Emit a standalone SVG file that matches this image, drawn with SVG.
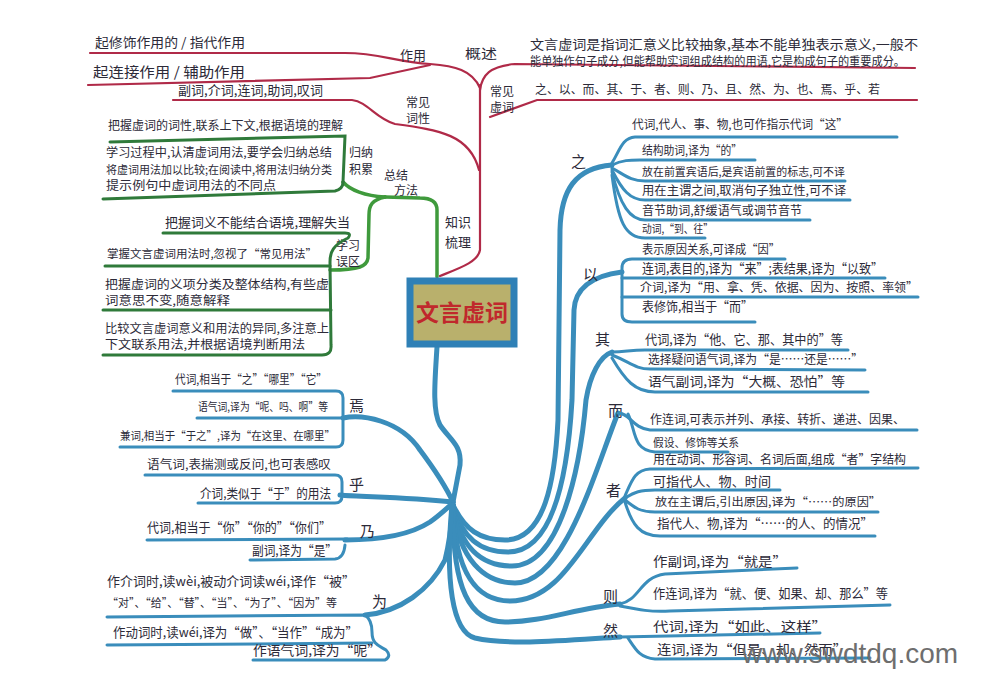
<svg xmlns="http://www.w3.org/2000/svg" width="996" height="699" viewBox="0 0 996 699">
<style>
.t{font-family:"Noto Sans CJK SC","Noto Sans",sans-serif;font-size:13px;fill:#2c2a38}
.s{font-size:12px}
.x{font-size:11.5px}
.lb{font-family:"Noto Sans CJK SC","Noto Sans",sans-serif;font-size:15px;fill:#2c2a38}
.bl{stroke:#3a8dbb;fill:none;stroke-linecap:round;stroke-linejoin:round}
.b5{stroke-width:5}
.b3{stroke-width:3}
.rd{stroke:#b02a48;stroke-width:2.2;fill:none;stroke-linecap:round}
.gr{stroke:#3f9a3c;stroke-width:3.5;fill:none;stroke-linecap:round;stroke-linejoin:round}
.gd{stroke:#2f7a3a;stroke-width:3;fill:none;stroke-linecap:round}
</style>
<rect width="996" height="699" fill="#ffffff"/>

<g id="connectors">
  <path class="rd" d="M90,53 L345,53 C380,53 395,62 430,64 C455,66 472,70 480,88"/>
  <path class="rd" d="M88,85 L370,78 L430,65"/>
  <path class="rd" d="M480,90 C482,75 490,66 515,64 L915,68"/>
  <path class="rd" d="M490,117 L537,100 L917,100"/>
  <path class="rd" d="M480,85 L480,250 C478,262 460,268 440,276"/>
  <path class="rd" d="M173,100 L352,100 C368,102 375,118 395,124 C440,130 470,135 479,170"/>
  <path class="gr" d="M437,277 L437,210 C437,202 432,198 420,198 L385,197"/>
  <path class="gr" d="M385,197 C365,196 350,190 343,182"/>
  <path class="gr" d="M385,197 C372,200 369,205 369,215 L368,258 C367,266 360,270 330,270"/>
  <path class="bl b5" d="M437,347 C435,380 432,410 440,425 C450,440 462,445 460,465 L453,502"/>
  <path class="bl b5" d="M343,418 C362,414 400,420 420,450 C435,470 445,485 453,502"/>
  <path class="bl b5" d="M340,495 C360,497 400,497 453,502"/>
  <path class="bl b5" d="M345,540 C380,540 410,535 430,522 C440,515 447,508 453,503"/>
  <path class="bl b5" d="M365,615 C400,612 430,590 445,560 C450,540 452,520 453,505"/>
  <path class="bl b5" d="M453,505 C465,530 480,540 505,540 C545,540 555,480 558,420 L560,230 C561,190 575,168 612,165"/>
  <path class="bl b5" d="M453,505 C462,538 480,552 508,552 C555,552 568,470 572,400 L574,310 C575,290 590,276 622,272"/>
  <path class="bl b5" d="M453,505 C460,548 482,566 512,566 C560,566 580,470 586,400 C590,375 600,356 612,352"/>
  <path class="bl b5" d="M453,505 C458,560 485,583 515,583 C565,583 595,470 618,413"/>
  <path class="bl b5" d="M453,505 C455,575 478,601 510,601 C565,601 585,530 625,498"/>
  <path class="bl b5" d="M453,505 C452,590 470,622 505,622 C545,622 575,608 620,604"/>
  <path class="bl b5" d="M452,505 C445,580 452,632 475,638 C510,646 570,640 620,637"/>
</g>

<g id="node-zuoyong">
  <text class="t" x="95" y="47" textLength="150" lengthAdjust="spacingAndGlyphs">起修饰作用的 / 指代作用</text>
  <text class="t" x="93" y="77" style="font-size:14px" textLength="152" lengthAdjust="spacingAndGlyphs">起连接作用 / 辅助作用</text>
  <text class="t" x="400" y="60" textLength="26" lengthAdjust="spacingAndGlyphs">作用</text>
</g>
<g id="node-gaishu">
  <text class="t" x="465" y="58" textLength="32" lengthAdjust="spacingAndGlyphs">概述</text>
  <text class="t" x="530" y="49" textLength="388" lengthAdjust="spacingAndGlyphs">文言虚词是指词汇意义比较抽象,基本不能单独表示意义,一般不</text>
  <text class="t s" x="530" y="66" textLength="375" lengthAdjust="spacingAndGlyphs">能单独作句子成分,但能帮助实词组成结构的用语,它是构成句子的重要成分。</text>
</g>
<g id="node-changjianxuci">
  <text class="t s" x="490" y="96">常见</text>
  <text class="t s" x="490" y="112">虚词</text>
  <text class="t s" x="535" y="94" textLength="345" lengthAdjust="spacingAndGlyphs">之、以、而、其、于、者、则、乃、且、然、为、也、焉、乎、若</text>
</g>
<g id="node-cixing">
  <text class="t s" x="406" y="107">常见</text>
  <text class="t s" x="406" y="123">词性</text>
  <text class="t" x="178" y="95" textLength="145" lengthAdjust="spacingAndGlyphs">副词,介词,连词,助词,叹词</text>
</g>

<g id="node-zhishi">
  <text class="t" x="445" y="227">知识</text>
  <text class="t" x="445" y="247">梳理</text>
</g>
<g id="node-fangfa">
  <text class="t s" x="384" y="180">总结</text>
  <text class="t s" x="394" y="195">方法</text>
</g>
<g id="node-jilei">
  <text class="t s" x="349" y="157">归纳</text>
  <text class="t s" x="349" y="174">积累</text>
  <path class="gd" d="M110,142 L345,136 L343,182"/>
  <path class="gd" d="M103,199 L335,191 Q343,189 343,182"/>
  <text class="t s" x="108" y="130" textLength="235" lengthAdjust="spacingAndGlyphs">把握虚词的词性,联系上下文,根据语境的理解</text>
  <text class="t s" x="106" y="157" textLength="226" lengthAdjust="spacingAndGlyphs">学习过程中,认清虚词用法,要学会归纳总结</text>
  <text class="t x" x="106" y="174" textLength="226" lengthAdjust="spacingAndGlyphs">将虚词用法加以比较;在阅读中,将用法归纳分类</text>
  <text class="t s" x="106" y="190" textLength="170" lengthAdjust="spacingAndGlyphs">提示例句中虚词用法的不同点</text>
</g>
<g id="node-wuqu">
  <text class="t s" x="336" y="250">学习</text>
  <text class="t s" x="336" y="266">误区</text>
  <path class="gd" d="M163,233 L345,233 Q352,233 348,238 C333,245 330,252 330,262 L331,345 Q332,355 322,355 L103,355"/>
  <path class="gd" d="M105,266 L330,266"/>
  <path class="gd" d="M103,310 L331,310"/>
  <text class="t" x="165" y="227" textLength="185" lengthAdjust="spacingAndGlyphs">把握词义不能结合语境,理解失当</text>
  <text class="t x" x="107" y="258" textLength="210" lengthAdjust="spacingAndGlyphs">掌握文言虚词用法时,忽视了“常见用法”</text>
  <text class="t s" x="105" y="289" textLength="224" lengthAdjust="spacingAndGlyphs">把握虚词的义项分类及整体结构,有些虚</text>
  <text class="t s" x="105" y="305" textLength="125" lengthAdjust="spacingAndGlyphs">词意思不变,随意解释</text>
  <text class="t s" x="105" y="333" textLength="224" lengthAdjust="spacingAndGlyphs">比较文言虚词意义和用法的异同,多注意上</text>
  <text class="t s" x="105" y="349" textLength="200" lengthAdjust="spacingAndGlyphs">下文联系用法,并根据语境判断用法</text>
</g>

<g id="node-center">
  <rect x="410" y="281" width="104" height="63" fill="#b9b06c" stroke="#2f80b6" stroke-width="7"/>
  <text x="462" y="321" text-anchor="middle" font-family="Noto Sans CJK SC, Noto Sans, sans-serif" font-size="23" font-weight="bold" fill="#c0282c">文言虚词</text>
</g>

<g id="node-yan">
  <text class="lb" x="349" y="411">焉</text>
  <path class="bl b3" d="M173,391 L336,391 Q343,391 343,398 L343,440 Q343,447 336,447 L120,447"/>
  <path class="bl b3" d="M197,418 L343,418"/>
  <text class="t s" x="175" y="384" textLength="152" lengthAdjust="spacingAndGlyphs">代词,相当于“之”“哪里”“它”</text>
  <text class="t" x="198" y="411" style="font-size:11px" textLength="130" lengthAdjust="spacingAndGlyphs">语气词,译为“呢、吗、啊”等</text>
  <text class="t x" x="120" y="440" textLength="215" lengthAdjust="spacingAndGlyphs">兼词,相当于“于之”,译为“在这里、在哪里”</text>
</g>
<g id="node-hu">
  <text class="lb" x="349" y="490">乎</text>
  <path class="bl b3" d="M145,475 L335,475 Q342,475 342,482 L342,496 Q342,503 335,503 L198,503"/>
  <text class="t s" x="147" y="469" textLength="184" lengthAdjust="spacingAndGlyphs">语气词,表揣测或反问,也可表感叹</text>
  <text class="t" x="200" y="498" textLength="131" lengthAdjust="spacingAndGlyphs">介词,类似于“于”的用法</text>
</g>
<g id="node-nai">
  <text class="lb" x="360" y="537">乃</text>
  <path class="bl b3" d="M147,540 L347,539"/>
  <path class="bl b3" d="M250,560 L335,559 Q344,558 345,545"/>
  <text class="t" x="147" y="532" textLength="184" lengthAdjust="spacingAndGlyphs">代词,相当于“你”“你的”“你们”</text>
  <text class="t" x="252" y="555" textLength="85" lengthAdjust="spacingAndGlyphs">副词,译为“是”</text>
</g>
<g id="node-wei">
  <text class="lb" x="372" y="607">为</text>
  <path class="bl b3" d="M107,617 L365,615 Q372,620 372,632 C372,645 380,646 386,650 Q392,656 385,660 L253,660"/>
  <path class="bl b3" d="M107,645 L372,643"/>
  <text class="t" x="107" y="586" textLength="248" lengthAdjust="spacingAndGlyphs">作介词时,读wèi,被动介词读wéi,译作“被”</text>
  <text class="t x" x="107" y="607" textLength="230" lengthAdjust="spacingAndGlyphs">“对”、“给”、“替”、“当”、“为了”、“因为”等</text>
  <text class="t" x="113" y="637" textLength="245" lengthAdjust="spacingAndGlyphs">作动词时,读wéi,译为“做”、“当作”“成为”</text>
  <text class="t" x="253" y="655" textLength="128" lengthAdjust="spacingAndGlyphs">作语气词,译为“呢”</text>
</g>

<g id="node-zhi">
  <text class="lb" x="571" y="167">之</text>
  <path class="bl b3" d="M612,163 C620,150 622,138 635,137 L897,137"/>
  <path class="bl b3" d="M612,165 C622,160 630,160 640,160 L755,160"/>
  <path class="bl b3" d="M612,168 C625,175 630,181 645,181 L845,181"/>
  <path class="bl b3" d="M612,170 C622,190 630,200 645,200 L850,200"/>
  <path class="bl b3" d="M612,172 C620,205 630,220 645,220 L810,220"/>
  <path class="bl b3" d="M612,175 C618,222 625,238 645,238 L705,238"/>
  <text class="t s" x="632" y="129" textLength="216" lengthAdjust="spacingAndGlyphs">代词,代人、事、物,也可作指示代词“这”</text>
  <text class="t s" x="642" y="155" textLength="100" lengthAdjust="spacingAndGlyphs">结构助词,译为“的”</text>
  <text class="t" x="642" y="176" style="font-size:11px" textLength="203" lengthAdjust="spacingAndGlyphs">放在前置宾语后,是宾语前置的标志,可不译</text>
  <text class="t s" x="642" y="195" textLength="204" lengthAdjust="spacingAndGlyphs">用在主谓之间,取消句子独立性,可不译</text>
  <text class="t s" x="642" y="215" textLength="160" lengthAdjust="spacingAndGlyphs">音节助词,舒缓语气或调节音节</text>
  <text class="t x" x="642" y="233" textLength="71" lengthAdjust="spacingAndGlyphs">动词,“到、往”</text>
</g>
<g id="node-yi">
  <text class="lb" x="583" y="280">以</text>
  <path class="bl b3" d="M785,259 L632,259 Q622,259 622,268 L622,314 Q622,322 632,322 L755,322"/>
  <path class="bl b3" d="M622,278 L885,278"/>
  <path class="bl b3" d="M622,297 L918,297"/>
  <text class="t s" x="642" y="254" textLength="138" lengthAdjust="spacingAndGlyphs">表示原因关系,可译成“因”</text>
  <text class="t" x="642" y="273" textLength="241" lengthAdjust="spacingAndGlyphs">连词,表目的,译为“来”;表结果,译为“以致”</text>
  <text class="t s" x="640" y="292" textLength="278" lengthAdjust="spacingAndGlyphs">介词,译为“用、拿、凭、依据、因为、按照、率领”</text>
  <text class="t" x="642" y="311" textLength="111" lengthAdjust="spacingAndGlyphs">表修饰,相当于“而”</text>
</g>
<g id="node-qi">
  <text class="lb" x="595" y="345">其</text>
  <path class="bl b3" d="M612,352 C625,352 630,350 645,350 L848,350"/>
  <path class="bl b3" d="M612,355 C630,362 635,369 650,369 L865,370"/>
  <path class="bl b3" d="M612,358 C625,380 635,392 655,392 L868,392"/>
  <text class="t" x="645" y="344" textLength="198" lengthAdjust="spacingAndGlyphs">代词,译为“他、它、那、其中的”等</text>
  <text class="t" x="648" y="364" style="font-size:12.5px" textLength="215" lengthAdjust="spacingAndGlyphs">选择疑问语气词,译为“是……还是……”</text>
  <text class="t" x="648" y="386" textLength="197" lengthAdjust="spacingAndGlyphs">语气副词,译为“大概、恐怕”等</text>
</g>
<g id="node-er">
  <text class="lb" x="608" y="416">而</text>
  <path class="bl b3" d="M618,413 C630,413 632,428 650,430 L917,430"/>
  <path class="bl b3" d="M628,414 C636,430 632,450 655,452 L728,452"/>
  <text class="t s" x="650" y="424" textLength="255" lengthAdjust="spacingAndGlyphs">作连词,可表示并列、承接、转折、递进、因果、</text>
  <text class="t" x="653" y="447" style="font-size:11px" textLength="86" lengthAdjust="spacingAndGlyphs">假设、修饰等关系</text>
</g>
<g id="node-zhe">
  <text class="lb" x="606" y="496">者</text>
  <path class="bl b3" d="M625,496 C632,480 635,470 650,469 L918,468"/>
  <path class="bl b3" d="M625,498 C635,492 640,490 655,490 L780,490"/>
  <path class="bl b3" d="M625,500 C635,508 640,512 655,512 L878,512"/>
  <path class="bl b3" d="M625,502 C632,525 640,536 660,536 L875,536"/>
  <text class="t" x="653" y="464" style="font-size:12.5px" textLength="253" lengthAdjust="spacingAndGlyphs">用在动词、形容词、名词后面,组成“者”字结构</text>
  <text class="t" x="653" y="486" textLength="118" lengthAdjust="spacingAndGlyphs">可指代人、物、时间</text>
  <text class="t x" x="655" y="506" textLength="226" lengthAdjust="spacingAndGlyphs">放在主谓后,引出原因,译为“……的原因”</text>
  <text class="t" x="657" y="528" textLength="216" lengthAdjust="spacingAndGlyphs">指代人、物,译为“……的人、的情况”</text>
</g>
<g id="node-ze">
  <text class="lb" x="603" y="602">则</text>
  <path class="bl b3" d="M620,604 C640,600 640,577 665,574 L797,568"/>
  <path class="bl b3" d="M620,606 C640,610 650,612 670,611 L890,605"/>
  <text class="t" x="653" y="566" textLength="134" lengthAdjust="spacingAndGlyphs">作副词,译为“就是”</text>
  <text class="t" x="653" y="598" textLength="235" lengthAdjust="spacingAndGlyphs">作连词,译为“就、便、如果、却、那么”等</text>
</g>
<g id="node-ran">
  <text class="lb" x="603" y="636">然</text>
  <path class="bl b3" d="M620,637 L820,633"/>
  <path class="bl b3" d="M628,638 C636,650 640,658 655,659 L870,658"/>
  <text class="t" x="653" y="631" textLength="174" lengthAdjust="spacingAndGlyphs">代词,译为“如此、这样”</text>
  <text class="t" x="657" y="654" textLength="190" lengthAdjust="spacingAndGlyphs">连词,译为“但是、却、然而”</text>
</g>

<text x="742" y="663" font-family="Liberation Sans, Arial, sans-serif" font-size="28" fill="#6e6e6e" textLength="216" lengthAdjust="spacingAndGlyphs">www.swdtdq.com</text>
</svg>
